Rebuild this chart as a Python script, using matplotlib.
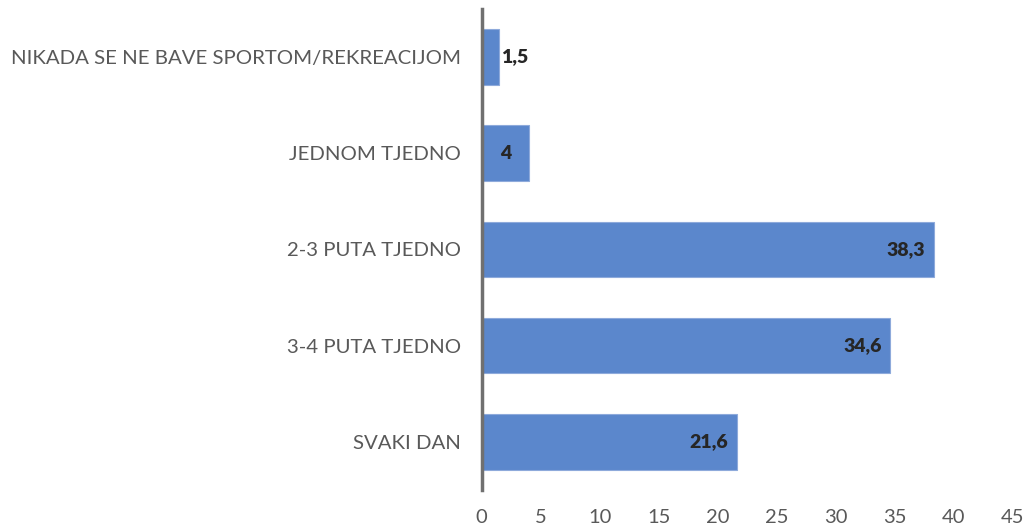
import matplotlib.pyplot as plt
from matplotlib.ticker import MultipleLocator

plt.rcParams['font.family'] = ['Lato', 'DejaVu Sans']

# kategorije odozgo prema dolje
kategorije = ['NIKADA SE NE BAVE SPORTOM/REKREACIJOM', 'JEDNOM TJEDNO',
              '2-3 PUTA TJEDNO', '3-4 PUTA TJEDNO', 'SVAKI DAN']
postotci = [1.5, 4, 38.3, 34.6, 21.6]
oznake = ['1,5', '4', '38,3', '34,6', '21,6']

boja = '#5B87CC'
siva = '#595959'

fig = plt.figure(figsize=(10.27, 5.29), dpi=100)
ax = fig.add_axes([0.469, 0.074, 0.517, 0.909])

y = list(range(len(kategorije)))[::-1]
ax.barh(y, postotci, height=0.58, color=boja, edgecolor='#8EAADB', linewidth=0.8)

for yi, v, txt in zip(y, postotci, oznake):
    if v < 3:
        ax.annotate(txt, (v, yi), xytext=(1, 0), textcoords='offset points',
                    ha='left', va='center', fontsize=14, fontweight='heavy', color='#262626')
    elif v < 6:
        ax.text(v / 2, yi, txt, ha='center', va='center',
                fontsize=14, fontweight='heavy', color='#262626')
    else:
        ax.annotate(txt, (v, yi), xytext=(-6, 0), textcoords='offset points',
                    ha='right', va='center', fontsize=14, fontweight='heavy', color='#262626')

ax.set_xlim(0, 45)
ax.set_ylim(-0.5, len(kategorije) - 0.5)
ax.xaxis.set_major_locator(MultipleLocator(5))
ax.set_yticks(y)
ax.set_yticklabels(kategorije)
ax.tick_params(axis='both', length=0, colors=siva)
ax.tick_params(axis='x', pad=14, labelsize=14.5)
ax.tick_params(axis='y', pad=15, labelsize=14.7)

for s in ['top', 'right', 'bottom']:
    ax.spines[s].set_visible(False)
ax.spines['left'].set_color('#707070')
ax.spines['left'].set_linewidth(2.5)

fig.savefig('out.png', dpi=100)
